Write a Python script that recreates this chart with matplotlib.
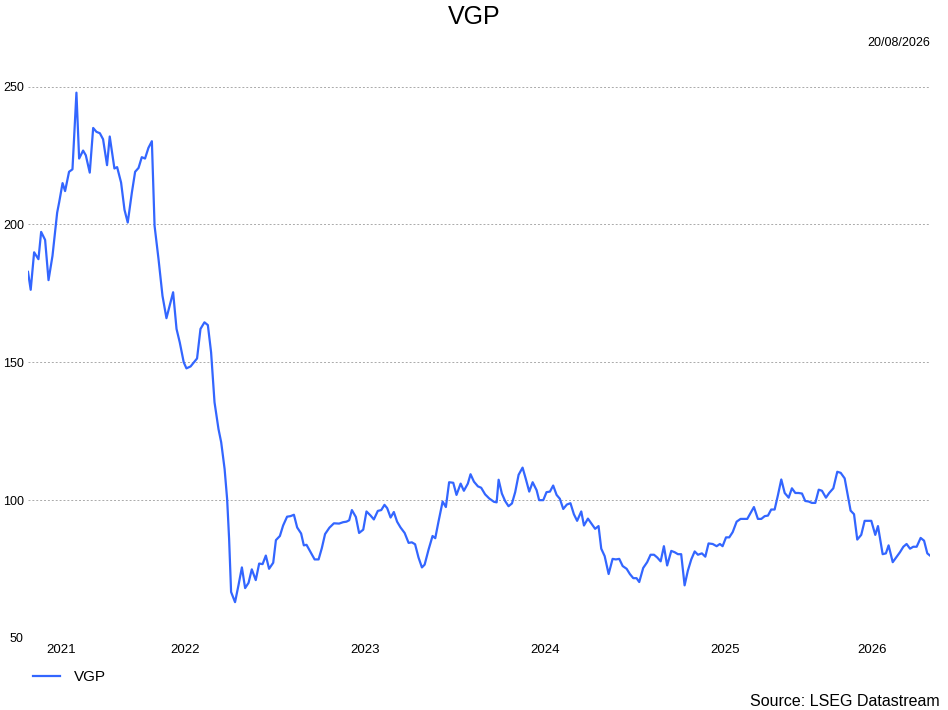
import matplotlib.pyplot as plt

plt.rcParams['font.family'] = ['Liberation Sans', 'DejaVu Sans']

# decimal-year time stamps and VGP prices
t = [2021.629, 2021.644, 2021.663, 2021.687, 2021.702, 2021.724, 2021.743, 2021.765, 2021.791, 2021.802,
     2021.821, 2021.835, 2021.857, 2021.876, 2021.898, 2021.913, 2021.935, 2021.950, 2021.972, 2021.991,
     2022.009, 2022.028, 2022.046, 2022.068, 2022.083, 2022.109, 2022.124, 2022.146, 2022.165, 2022.183,
     2022.206, 2022.224, 2022.243, 2022.261, 2022.279, 2022.298, 2022.317, 2022.332, 2022.354, 2022.376,
     2022.398, 2022.435, 2022.454, 2022.472, 2022.494, 2022.509, 2022.532, 2022.568, 2022.587, 2022.609,
     2022.628, 2022.646, 2022.665, 2022.687, 2022.702, 2022.721, 2022.735, 2022.746, 2022.757, 2022.779,
     2022.798, 2022.817, 2022.835, 2022.854, 2022.872, 2022.894, 2022.913, 2022.932, 2022.950, 2022.968,
     2022.991, 2023.006, 2023.028, 2023.046, 2023.068, 2023.087, 2023.106, 2023.124, 2023.146, 2023.161,
     2023.176, 2023.198, 2023.221, 2023.243, 2023.261, 2023.279, 2023.303, 2023.328, 2023.357, 2023.379,
     2023.398, 2023.413, 2023.428, 2023.450, 2023.468, 2023.491, 2023.509, 2023.532, 2023.550, 2023.572,
     2023.591, 2023.609, 2023.624, 2023.643, 2023.661, 2023.679, 2023.698, 2023.721, 2023.743, 2023.761,
     2023.779, 2023.798, 2023.817, 2023.832, 2023.854, 2023.876, 2023.891, 2023.909, 2023.932, 2023.950,
     2023.968, 2023.991, 2024.009, 2024.032, 2024.050, 2024.072, 2024.087, 2024.106, 2024.128, 2024.146,
     2024.168, 2024.191, 2024.217, 2024.232, 2024.243, 2024.261, 2024.279, 2024.298, 2024.317, 2024.335,
     2024.354, 2024.376, 2024.394, 2024.413, 2024.432, 2024.454, 2024.468, 2024.491, 2024.509, 2024.528,
     2024.546, 2024.565, 2024.583, 2024.602, 2024.622, 2024.642, 2024.661, 2024.679, 2024.702, 2024.717,
     2024.739, 2024.761, 2024.779, 2024.798, 2024.813, 2024.832, 2024.854, 2024.876, 2024.894, 2024.913,
     2024.932, 2024.954, 2024.972, 2024.991, 2025.009, 2025.024, 2025.046, 2025.068, 2025.087, 2025.106,
     2025.124, 2025.143, 2025.161, 2025.179, 2025.202, 2025.221, 2025.239, 2025.257, 2025.276, 2025.294,
     2025.313, 2025.332, 2025.350, 2025.372, 2025.391, 2025.409, 2025.432, 2025.454, 2025.472, 2025.487,
     2025.506, 2025.524, 2025.543, 2025.565, 2025.587, 2025.624, 2025.661, 2025.683, 2025.702, 2025.721,
     2025.739, 2025.757, 2025.776, 2025.794, 2025.813, 2025.832, 2025.854, 2025.872, 2025.891, 2025.909,
     2025.928, 2025.946, 2025.965, 2025.983, 2026.002, 2026.021, 2026.039, 2026.061, 2026.079, 2026.102,
     2026.124, 2026.143, 2026.165, 2026.179, 2026.198, 2026.217, 2026.235, 2026.257, 2026.276, 2026.313,
     2026.335, 2026.350, 2026.376, 2026.394, 2026.409, 2026.432, 2026.454, 2026.472, 2026.491, 2026.509,
     2026.528, 2026.546, 2026.565, 2026.587, 2026.606, 2026.624, 2026.639]

vgp = [182.8, 176.3, 189.9, 187.4, 197.3, 194.4, 179.8, 188.6, 204.3, 208.0,
       215.0, 212.1, 219.1, 220.0, 247.8, 223.9, 226.8, 225.1, 218.8, 235.0,
       233.6, 233.1, 230.9, 221.5, 231.9, 220.3, 220.8, 215.2, 205.3, 200.7,
       211.6, 219.1, 220.5, 224.4, 223.9, 227.8, 230.2, 199.5, 187.4, 174.1,
       166.0, 175.4, 162.1, 157.2, 150.0, 147.8, 148.5, 151.4, 162.1, 164.5,
       163.5, 153.6, 135.5, 125.8, 121.0, 111.3, 100.4, 86.0, 66.7, 63.0,
       69.1, 75.6, 68.1, 70.0, 74.9, 71.0, 77.0, 76.8, 79.9, 75.1,
       77.3, 85.5, 87.0, 90.8, 94.0, 94.2, 94.7, 90.1, 87.9, 83.6,
       83.8, 81.2, 78.5, 78.5, 82.6, 87.7, 90.0, 91.6, 91.5, 92.0,
       92.2, 92.7, 96.4, 93.9, 88.1, 89.3, 95.9, 94.4, 93.0, 96.1,
       96.4, 98.3, 97.1, 93.7, 95.7, 92.2, 90.1, 88.1, 84.5, 84.7,
       84.0, 79.2, 75.6, 76.6, 82.1, 87.0, 86.2, 92.2, 99.5, 97.5,
       106.5, 106.3, 101.9, 106.0, 103.4, 106.0, 109.4, 106.7, 105.0, 104.5,
       102.1, 100.6, 99.4, 99.2, 107.4, 102.4, 99.7, 97.8, 98.8, 102.9,
       109.2, 111.8, 107.7, 103.1, 106.5, 103.6, 100.0, 100.0, 102.9, 103.1,
       105.3, 101.9, 100.5, 96.8, 98.4, 98.9, 94.9, 92.5, 95.9, 90.8,
       93.3, 91.3, 89.6, 90.6, 82.4, 79.7, 73.2, 78.7, 78.5, 78.7,
       76.1, 75.1, 73.2, 71.7, 71.7, 70.3, 75.4, 77.5, 80.2, 80.2,
       79.2, 77.8, 83.3, 76.3, 81.6, 81.1, 80.4, 80.4, 69.1, 74.4,
       78.5, 81.4, 80.2, 80.7, 79.5, 84.3, 84.1, 83.3, 84.1, 83.3,
       86.5, 86.5, 88.4, 92.2, 93.2, 93.2, 97.5, 93.2, 93.2, 94.2,
       94.4, 96.6, 96.6, 101.7, 107.5, 102.6, 100.9, 104.3, 102.6, 102.6,
       102.4, 99.7, 99.5, 99.0, 99.0, 103.8, 103.4, 100.9, 102.6, 104.3,
       110.3, 109.9, 107.9, 102.9, 96.2, 94.9, 85.7, 87.4, 92.5, 92.5,
       87.4, 90.6, 80.4, 80.7, 83.6, 77.5, 79.5, 81.1, 83.1, 84.1,
       82.4, 83.1, 83.1, 86.3, 85.3, 80.7, 79.9]

years = [2021, 2022, 2023, 2024, 2025, 2026]
yticks = [50, 100, 150, 200, 250]

fig = plt.figure(figsize=(9.48, 7.10), dpi=100)
ax = fig.add_axes([28 / 948, 1 - 638 / 710, 902 / 948, 578 / 710])

ax.plot(t, vgp, color='#3366ff', lw=1.6, label='VGP')

x0, x1 = t[0], t[-1]
ax.set_xlim(x0, x1)
ax.set_ylim(50, 50 + 578 / 2.757)

# year labels sit in the middle of the visible part of each year
centers = [(max(x0, y) + min(x1, y + 1)) / 2 for y in years]
ax.set_xticks(centers)
ax.set_xticklabels([str(y) for y in years], fontsize=9.5)
ax.set_yticks(yticks)
ax.set_yticklabels([str(v) for v in yticks], fontsize=9)
ax.tick_params(axis='both', length=0)
ax.tick_params(axis='x', pad=4)
ax.tick_params(axis='y', pad=3)

ax.grid(axis='y', color='#aaaaaa', ls=(0, (2, 2)), lw=0.7)
ax.set_axisbelow(True)
for s in ax.spines.values():
    s.set_visible(False)

fig.text(474 / 948, 1 - 17 / 710, 'VGP', ha='center', va='center', fontsize=18)
fig.text(930 / 948, 1 - 43 / 710, '20/08/2026', ha='right', va='center', fontsize=9)
fig.text(940 / 948, 1 - 701 / 710, 'Source: LSEG Datastream', ha='right', va='center', fontsize=11.5)

fig.legend(loc='center left', bbox_to_anchor=(19 / 948, 1 - 677 / 710), frameon=False,
           fontsize=11, handlelength=1.8, handletextpad=0.9)

fig.savefig('out.png', dpi=100)
